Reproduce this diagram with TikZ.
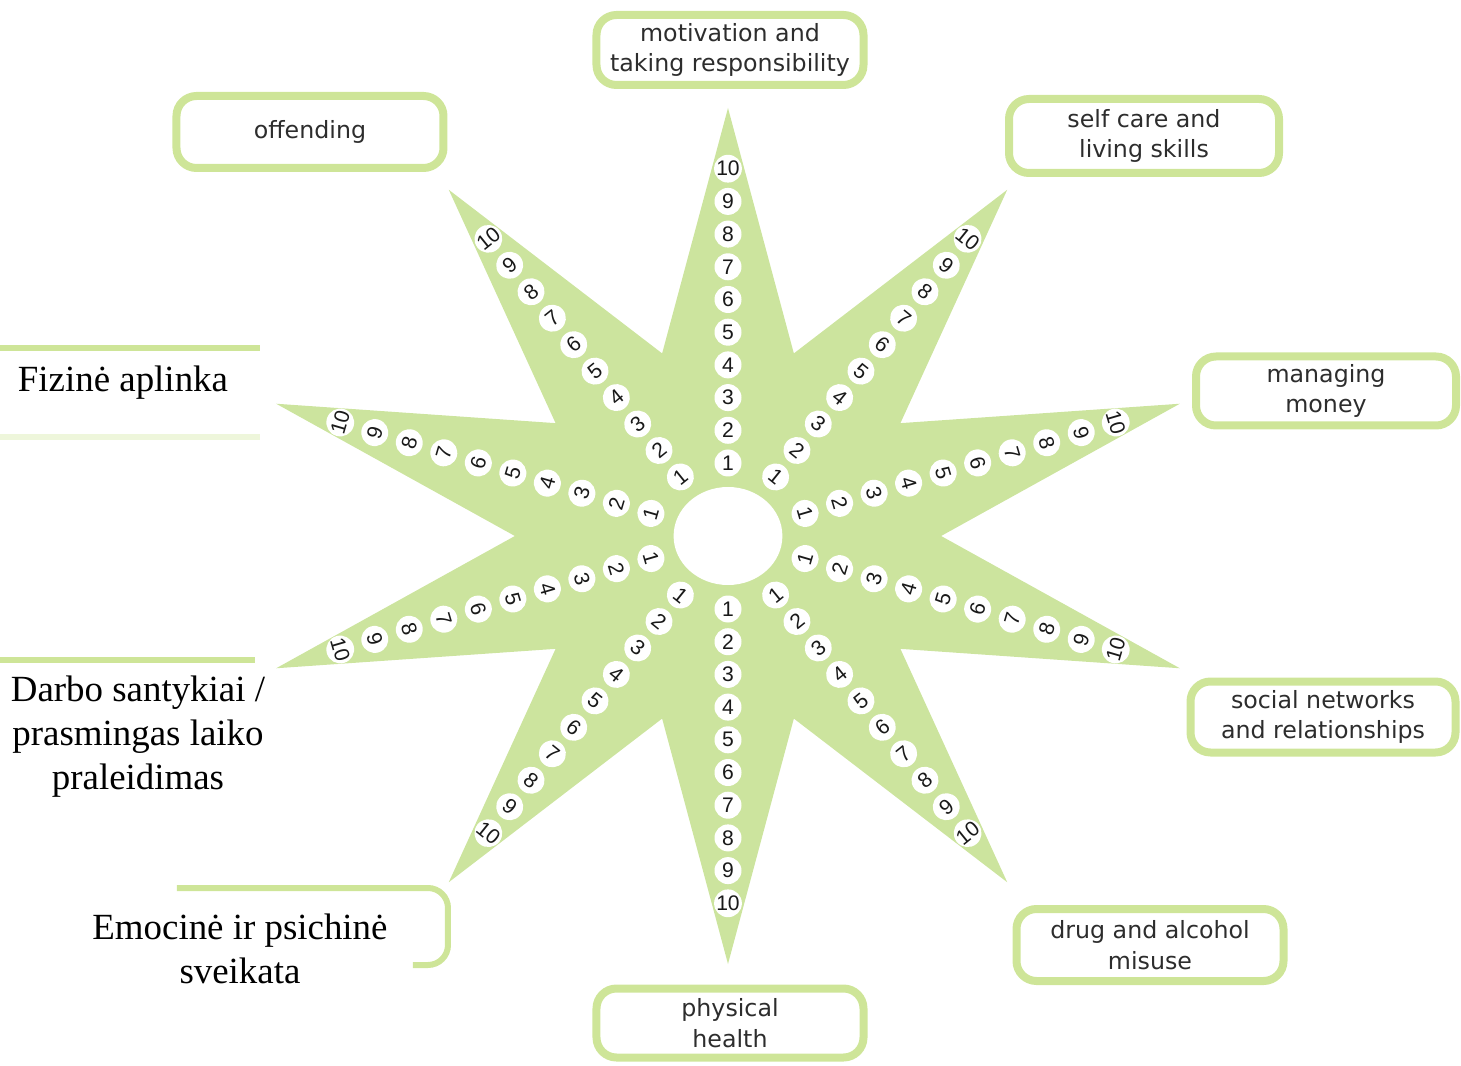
\documentclass[tikz,border=0pt]{standalone}
\usepackage{fontspec}
\setmainfont{Liberation Serif}
\newfontfamily\boxfont{DejaVu Sans}
\newfontfamily\digitfont{Liberation Sans}
\usepackage{tikz}
\usetikzlibrary{positioning}

\definecolor{stargreen}{RGB}{204,228,158}
\definecolor{framegreen}{RGB}{206,229,152}
\definecolor{labelgray}{RGB}{45,45,45}

\tikzset{
  areabox/.style={draw=framegreen, line width=1.6mm, rectangle, rounded corners=4mm,
    minimum width=53.4mm, minimum height=14mm, align=center, text=labelgray,
    font=\boxfont\fontsize{13.5}{17.5}\selectfont},
  scorebubble/.style={circle, fill=white, inner sep=0pt, minimum size=5.4mm,
    text=black!90, font=\digitfont\fontsize{12}{12}\selectfont},
  oldlabel/.style={align=center, font=\fontsize{21}{25}\selectfont},
  oldframe/.style={draw=framegreen, line width=1.2mm, rounded corners=4mm}
}

\begin{document}
\begin{tikzpicture}[x=0.2mm, y=0.2mm]
  \useasboundingbox (-728,-529) rectangle (733,536);

  % Stella
  \begin{scope}[xscale=1.11]
    \fill[stargreen] (90:428)
      \foreach \i in {0,...,9} { -- ({108+36*\i}:192) -- ({126+36*\i}:428) } -- cycle;
    \fill[white] (0,0) circle (49);

    % Punteggi sulle punte
    \foreach \a in {90,126,...,414} {
      \pgfmathsetmacro\tilt{atan2(sin(\a),1.11*cos(\a)) + (sin(\a) > 0 ? -90 : 90)}
      \foreach \k in {1,...,10} {
        \node[scorebubble, rotate=\tilt] (s\a-\k) at (\a:{73+32.7*(\k-1)}) {\k};
      }
    }
  \end{scope}

  % Riquadri
  \node[areabox] (motivation) at (2,486) {motivation and\\taking responsibility};
  \node[areabox, minimum height=14.4mm] (offending) at (-418,404) {offending};
  \node[areabox, minimum width=54mm, minimum height=14.8mm] (selfcare) at (416,400) {self care and\\living skills};
  \node[areabox, minimum width=52mm, minimum height=13.8mm] (money) at (598,145) {managing\\money};
  \node[areabox, minimum width=53mm, minimum height=14.2mm] (social) at (595,-181) {social networks\\and relationships};
  \node[areabox, minimum height=14.4mm] (drugs) at (422,-409) {drug and alcohol\\misuse};
  \node[areabox, minimum height=13.8mm] (health) at (2,-487) {physical\\health};

  % Riquadri coperti
  \draw[oldframe] (-728,188) -- (-468,188);
  \draw[oldframe, draw opacity=0.35] (-728,99) -- (-468,99);
  \draw[oldframe] (-728,-124) -- (-473,-124);
  \draw[oldframe] (-551,-352) -- (-280,-352) -- (-280,-429) -- (-315,-429);

  % Etichette
  \node[oldlabel] (physenv) at (-605,153) {Fizinė aplinka};
  \node[oldlabel] (work) at (-590,-201) {Darbo santykiai /\\prasmingas laiko\\praleidimas};
  \node[oldlabel] (emotional) at (-488,-413) {Emocinė ir psichinė\\sveikata};
\end{tikzpicture}
\end{document}
